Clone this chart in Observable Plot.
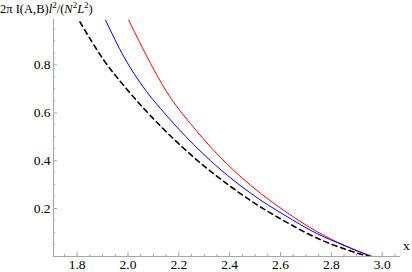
<!DOCTYPE html>
<html><head>
<meta charset="utf-8">
<script src="https://cdn.jsdelivr.net/npm/d3@7"></script>
<script src="https://cdn.jsdelivr.net/npm/@observablehq/plot@0.6"></script>
<style>body{margin:0;background:#fff}</style>
</head><body><div id="chart"></div>
<script>
// Black dashed curve
const blackX = [1.811, 1.905, 1.997, 2.128, 2.259, 2.391, 2.496, 2.614, 2.745, 2.85, 2.947];
const blackY = [0.98, 0.82, 0.697, 0.545, 0.414, 0.302, 0.224, 0.149, 0.076, 0.032, 0];
// Blue curve
const blueX = [1.912, 1.984, 2.069, 2.128, 2.259, 2.391, 2.483, 2.614, 2.745, 2.85, 2.955];
const blueY = [0.987, 0.834, 0.695, 0.618, 0.467, 0.339, 0.264, 0.174, 0.095, 0.046, 0];
// Red curve
const redX = [2.003, 2.089, 2.148, 2.259, 2.391, 2.483, 2.614, 2.745, 2.85, 2.962];
const redY = [0.987, 0.806, 0.695, 0.538, 0.385, 0.297, 0.192, 0.103, 0.047, 0];

const xTicks = [1.8, 2.0, 2.2, 2.4, 2.6, 2.8, 3.0];
const yTicks = [0.2, 0.4, 0.6, 0.8];
const xMinor = d3.range(35, 62).map(i => i * 0.05).filter(v => !xTicks.some(t => Math.abs(t - v) < 1e-6));
const yMinor = d3.range(1, 20).map(i => i * 0.05).filter(v => !yTicks.some(t => Math.abs(t - v) < 1e-6));

const toRows = (xs, ys) => xs.map((x, i) => ({x, y: ys[i]}));
const black = toRows(blackX, blackY);
const blue = toRows(blueX, blueY);
const red = toRows(redX, redY);

const axisColor = "#a6a6a6";
const font = "'Liberation Serif', 'Times New Roman', serif";
const fs = 12.5;
const tfs = 13.5;

const plot = Plot.plot({
  width: 412,
  height: 272,
  marginLeft: 53,
  marginRight: 12,
  marginTop: 19,
  marginBottom: 16,
  style: {fontSize: `${fs}px`, color: "black", background: "white"},
  x: {domain: [1.707, 3.072], axis: null},
  y: {domain: [0, 0.99], axis: null},
  marks: [
    Plot.ruleY([0], {stroke: axisColor}),
    Plot.ruleX([1.707], {stroke: axisColor}),
    Plot.axisX(xTicks, {tickSize: -4, stroke: axisColor, tickFormat: () => "", label: null}),
    Plot.axisX(xMinor, {tickSize: -2, stroke: axisColor, tickFormat: () => "", label: null}),
    Plot.axisY(yTicks, {tickSize: -4, stroke: axisColor, tickFormat: () => "", label: null}),
    Plot.axisY(yMinor, {tickSize: -2, stroke: axisColor, tickFormat: () => "", label: null}),
    Plot.axisX(xTicks, {tickSize: 0, tickPadding: 3, tickFormat: d3.format(".1f"), fill: "black", label: null, fontSize: tfs}),
    Plot.axisY(yTicks, {tickSize: 0, tickPadding: 3, tickFormat: d3.format(".1f"), fill: "black", label: null, fontSize: tfs}),
    Plot.line(red, {x: "x", y: "y", stroke: "#ff0000", strokeWidth: 1, curve: "monotone-x", clip: true}),
    Plot.line(blue, {x: "x", y: "y", stroke: "#0000ff", strokeWidth: 1, curve: "monotone-x", clip: true}),
    Plot.line(black, {x: "x", y: "y", stroke: "black", strokeWidth: 1.6, strokeDasharray: "5,4", curve: "monotone-x", clip: true})
  ]
});

const svg = d3.select(plot);
const title = svg.append("text")
  .attr("x", 0).attr("y", 13)
  .attr("text-anchor", "start")
  .attr("font-size", fs).attr("fill", "black");
title.append("tspan").text("2π I(A,B)");
title.append("tspan").attr("font-style", "italic").text("l");
title.append("tspan").attr("dy", -5).attr("font-size", 9).text("2");
title.append("tspan").attr("dy", 5).text("/(");
title.append("tspan").attr("font-style", "italic").text("N");
title.append("tspan").attr("dy", -5).attr("font-size", 9).text("2");
title.append("tspan").attr("dy", 5).attr("font-style", "italic").text("L");
title.append("tspan").attr("dy", -5).attr("font-size", 9).text("2");
title.append("tspan").attr("dy", 5).text(")");

svg.append("text")
  .attr("x", 403).attr("y", 250)
  .attr("text-anchor", "start")
  .attr("font-size", tfs).attr("fill", "black")
  .text("x");

// serif font for every text (tick labels, title, axis name)
svg.attr("font-family", font).style("font-family", font);
svg.selectAll("g, text").attr("font-family", font).style("font-family", font);

document.getElementById("chart").appendChild(plot);
</script>
</body></html>
